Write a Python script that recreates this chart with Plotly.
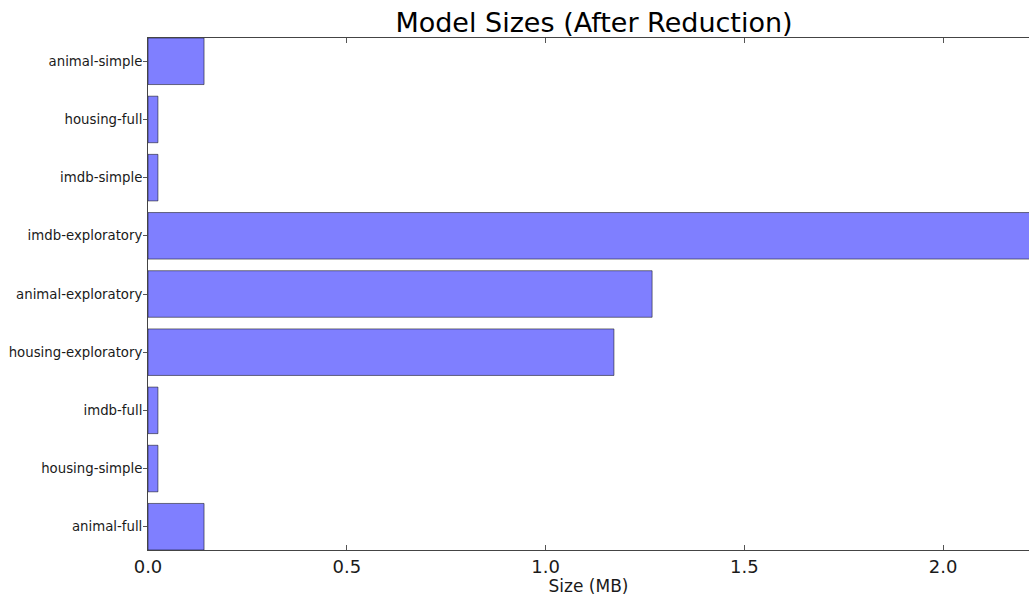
import plotly.graph_objects as go

categories = ["animal-full", "housing-simple", "imdb-full", "housing-exploratory",
              "animal-exploratory", "imdb-exploratory", "imdb-simple", "housing-full",
              "animal-simple"]
sizes_mb = [0.141, 0.025, 0.025, 1.172, 1.268, 2.245, 0.025, 0.025, 0.141]
x_ticks = [0.0, 0.5, 1.0, 1.5, 2.0]
x_tick_labels = ["0.0", "0.5", "1.0", "1.5", "2.0"]

W, H = 1029, 596
fig = go.Figure(go.Bar(
    x=sizes_mb, y=categories, orientation="h", width=0.8,
    marker=dict(color="rgba(0,0,255,0.5)", line=dict(color="rgba(0,0,0,0.5)", width=1)),
))
fig.update_layout(
    width=W, height=H,
    margin=dict(l=148, r=0, t=38, b=46),
    paper_bgcolor="white", plot_bgcolor="white",
    font=dict(family="DejaVu Sans", color="#1a1a1a"),
    showlegend=False,
    title=dict(text="Model Sizes (After Reduction)", xref="container", x=594 / W,
               xanchor="center", yref="container", y=1 - 23 / H, yanchor="middle",
               font=dict(size=27, color="black")),
)
fig.update_xaxes(
    range=[0, 2.216], tickvals=x_ticks, ticktext=x_tick_labels,
    ticks="inside", ticklen=5, tickcolor="#555", showline=True, linecolor="#444",
    linewidth=1, mirror="ticks", showgrid=False, zeroline=False,
    tickfont=dict(size=18, color="#1a1a1a"),
    title=dict(text="Size (MB)", font=dict(size=17, color="#1a1a1a"), standoff=2),
)
fig.update_yaxes(
    range=[-0.4, 8.4], ticks="outside", ticklen=4, tickcolor="#555",
    showline=True, linecolor="#444", linewidth=1, showgrid=False, zeroline=False,
    tickfont=dict(size=13.3, color="#1a1a1a"), ticklabelstandoff=-2,
)
fig.write_html("out.html", config={"displayModeBar": False},
               post_script="document.body.style.margin='0';")
